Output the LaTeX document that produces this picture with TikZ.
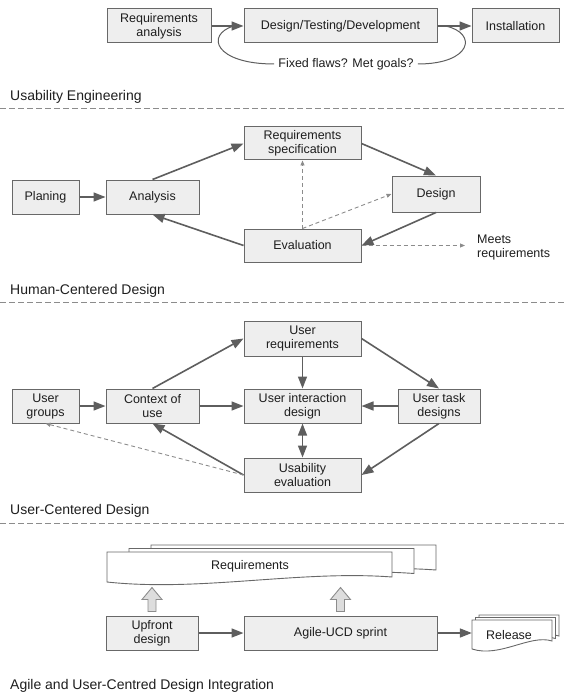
\documentclass[tikz,border=0pt]{standalone}
\usepackage{fontspec}
\setmainfont{Liberation Sans}
\usetikzlibrary{arrows.meta}
\definecolor{boxfill}{HTML}{EEEEEE}
\definecolor{boxline}{HTML}{686868}
\definecolor{arrowgray}{HTML}{5E5E5E}
\definecolor{dashgray}{HTML}{8C8C8C}
\definecolor{boxtext}{HTML}{1E1E1E}
\definecolor{blockfill}{HTML}{DDDDDD}
\begin{document}
\begin{tikzpicture}[
                x=1pt, y=-1pt,
                box/.style={
                    draw=boxline,
                    fill=boxfill,
                    line width=1pt,
                    rectangle,
                    minimum height=34pt,
                    inner sep=2pt,
                    align=center,
                    text=boxtext,
                    font=\fontsize{12.5}{14}\selectfont
                },
                label/.style={
                    inner sep=4pt,
                    align=left,
                    text=boxtext,
                    font=\fontsize{12.5}{14}\selectfont
                },
                title/.style={
                    anchor=west,
                    inner sep=0pt,
                    text=boxtext,
                    font=\fontsize{14}{16}\selectfont
                },
                docbox/.style={
                    draw=boxline,
                    fill=white,
                    line width=0.9pt
                },
                arrow/.style={
                    draw=arrowgray,
                    line width=1.6pt,
                    -{Triangle[length=12pt,width=9pt]}
                },
                twoway/.style={
                    arrow,
                    {Triangle[length=12pt,width=9pt]}-{Triangle[length=12pt,width=9pt]}
                },
                dasharrow/.style={
                    draw=dashgray,
                    line width=0.9pt,
                    dash pattern=on 4pt off 3pt,
                    -{Triangle[length=5pt,width=4pt]}
                },
                loopline/.style={
                    draw=arrowgray,
                    line width=1pt
                },
                sepline/.style={
                    draw=dashgray,
                    line width=0.8pt,
                    dash pattern=on 6pt off 3pt
                },
                blockarrow/.style={
                    draw=dashgray,
                    fill=blockfill,
                    line width=0.9pt,
                    line join=miter
                }
            ]
                \useasboundingbox (0,0) rectangle (566,695);

                \node[box, minimum width=104pt] (reqana) at (159,26) {Requirements\\analysis};
                \node[box, minimum width=193pt] (dtd) at (340.5,26) {Design/Testing/Development};
                \node[box, minimum width=87pt] (inst) at (515.5,26) {Installation};
                \node[label] (fixed) at (346,64) {Fixed flaws? Met goals?};

                \draw[arrow] (reqana) -- (dtd);
                \draw[arrow] (dtd) -- (inst);
                \draw[loopline] ([xshift=-10pt]dtd.west) .. controls (205,35) and (215,64) .. (fixed.west);
                \draw[loopline] (fixed.east) .. controls (472,64) and (478,33) .. ([xshift=8pt]dtd.east);

                \node[title] (ttlue) at (10,97) {Usability Engineering};
                \draw[sepline] (0,108) -- (566,108);

                \node[box, minimum width=67pt] (plan) at (45.5,197) {Planing};
                \node[box, minimum width=93pt] (analysis) at (152.5,197) {Analysis};
                \node[box, minimum width=117pt, minimum height=33pt] (reqspec) at (302.5,143.5) {Requirements\\specification};
                \node[box, minimum width=88pt, minimum height=36pt] (design) at (436,194) {Design};
                \node[box, minimum width=117pt, minimum height=33pt] (eval) at (302.5,245.5) {Evaluation};
                \node[label, anchor=west] (meets) at (473,247) {Meets\\requirements};

                \draw[arrow] (plan) -- (analysis);
                \draw[arrow] (analysis.north) -- (reqspec.west);
                \draw[arrow] (reqspec.east) -- (design.north);
                \draw[arrow] (design.south) -- (eval.east);
                \draw[arrow] (eval.west) -- (analysis.south);
                \draw[dasharrow] (eval.north) -- (reqspec.south);
                \draw[dasharrow] (eval.north) -- (design.west);
                \draw[dasharrow, shorten >=8pt] (eval.east) -- (eval.east -| meets.west);

                \node[title] (ttlhcd) at (10,291) {Human-Centered Design};
                \draw[sepline] (0,302) -- (566,302);

                \node[box, minimum width=67pt] (ugroups) at (45.5,406) {User\\groups};
                \node[box, minimum width=93pt] (context) at (152.5,406) {Context of\\use};
                \node[box, minimum width=117pt, minimum height=35pt] (ureq) at (302.5,338.5) {User\\requirements};
                \node[box, minimum width=117pt] (uid) at (302.5,406) {User interaction\\design};
                \node[box, minimum width=82pt] (utd) at (439,406) {User task\\designs};
                \node[box, minimum width=117pt] (useval) at (302.5,475) {Usability\\evaluation};

                \draw[arrow] (ugroups) -- (context);
                \draw[arrow] (context.north) -- (ureq.west);
                \draw[arrow] (context) -- (uid);
                \draw[arrow] (ureq) -- (uid);
                \draw[arrow] (ureq.east) -- (utd.north);
                \draw[arrow] (utd) -- (uid);
                \draw[arrow] (utd.south) -- (useval.east);
                \draw[twoway] (uid) -- (useval);
                \draw[arrow] (useval.west) -- (context.south);
                \draw[dasharrow] (useval.west) -- (ugroups.south);

                \node[title] (ttlucd) at (10,511) {User-Centered Design};
                \draw[sepline] (0,523) -- (566,523);

                \foreach \s in {2,1}
                    \draw[docbox, shift={(\s*22,-\s*3.5)}] (107,552) -- (392,552) -- (392,577) .. controls (300,570) and (200,592) .. (107,582) -- cycle;
                \draw[docbox] (107,552) -- (392,552) -- (392,577) .. controls (300,570) and (200,592) .. (107,582) -- cycle;
                \foreach \s in {2,1}
                    \draw[docbox, shift={(\s*3.5,-\s*2.5)}] (472,620) -- (552,620) -- (552,641) .. controls (530,634) and (500,658) .. (472,649) -- cycle;
                \draw[docbox] (472,620) -- (552,620) -- (552,641) .. controls (530,634) and (500,658) .. (472,649) -- cycle;

                \node[label] (reqdoc) at (250,566) {Requirements};
                \node[label, minimum width=80pt] (release) at (512,635) {\hspace*{-6pt}Release};
                \node[box, minimum width=92pt] (upfront) at (152,633) {Upfront\\design};
                \node[box, minimum width=193pt] (agile) at (340.5,633) {Agile-UCD sprint};

                \foreach \n in {upfront, agile}
                    \draw[blockarrow] ([shift={(-4,-4)}]\n.north) -- ++(0,-12) -- ++(-6,0) -- ++(10,-12) -- ++(10,12) -- ++(-6,0) -- ++(0,12) -- cycle;
                \draw[arrow] (upfront) -- (agile);
                \draw[arrow] (agile.east) -- (agile.east -| release.west);

                \node[title] (ttlagile) at (10,686) {Agile and User-Centred Design Integration};
\end{tikzpicture}
\end{document}
